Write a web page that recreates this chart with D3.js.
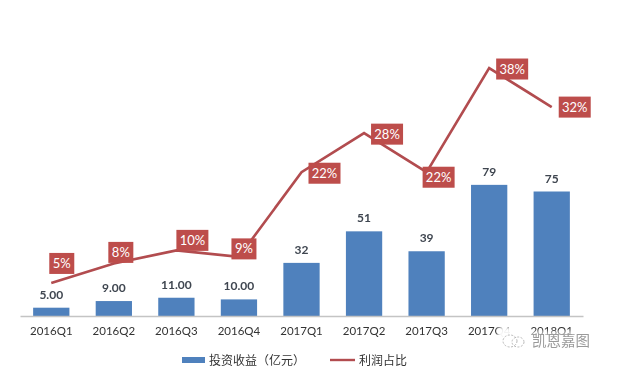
<!DOCTYPE html>
<html>
<head>
<meta charset="utf-8">
<script src="https://cdn.jsdelivr.net/npm/d3@7/dist/d3.min.js"></script>
<style>
  html, body { margin: 0; padding: 0; background: #fff; }
  svg { display: block; }
  text { font-family: Lato, "Noto Sans CJK SC", sans-serif; }
</style>
</head>
<body>
<div id="chart"></div>
<script>
// ── Data ────────────────────────────────────────────────────────────────
const quarters = ['2016Q1', '2016Q2', '2016Q3', '2016Q4', '2017Q1', '2017Q2', '2017Q3', '2017Q4', '2018Q1'];
const income = [5, 9, 11, 10, 32, 51, 39, 79, 75];
const incomeLabels = ['5.00', '9.00', '11.00', '10.00', '32', '51', '39', '79', '75'];
const profitShare = [5, 8, 10, 9, 22, 28, 22, 38, 32];
const legendNames = ['投资收益（亿元）', '利润占比'];

// hand-placed offsets of the red tags from their points
const tagDx = [10.5, 7, 16, 5, 23, 23, 12, 23, 23];
const tagDy = [-19.5, -11, -10, -8, 1, 1, 5, 1, 0];

const W = 621, H = 376;
const C = { bar: '#4f81bd', line: '#b24c4f', tag: '#bd4d4b', axis: '#c4c4c4', text: '#3f4650' };

const svg = d3.select('#chart').append('svg').attr('width', W).attr('height', H);

const x = d3.scaleBand().domain(quarters).range([20, 583]).paddingInner(0.42).paddingOuter(0.21);
const yBar = d3.scaleLinear().domain([0, 100]).range([316, 150]);
const yLine = d3.scaleLinear().domain([0, 40]).range([315.5, 55]);
const cx = q => x(q) + x.bandwidth() / 2;

const art = svg.append('g').style('filter', 'blur(0.35px)');

// ── Bars ────────────────────────────────────────────────────────────────
art.append('g').selectAll('rect').data(quarters).join('rect')
  .attr('x', d => x(d))
  .attr('y', (d, i) => yBar(income[i]))
  .attr('width', x.bandwidth())
  .attr('height', (d, i) => yBar(0) - yBar(income[i]))
  .attr('fill', C.bar);

art.append('g').selectAll('text').data(quarters).join('text')
  .attr('x', cx)
  .attr('y', (d, i) => yBar(income[i]) - 9)
  .attr('text-anchor', 'middle')
  .attr('font-size', 12).attr('font-weight', 700).attr('fill', C.text)
  .text((d, i) => incomeLabels[i]);

// ── Axis ────────────────────────────────────────────────────────────────
const axis = art.append('g').attr('transform', `translate(0,${yBar(0)})`)
  .call(d3.axisBottom(x).tickSize(0).tickPadding(11));
axis.select('.domain').attr('stroke', C.axis).attr('stroke-width', 1.5);
axis.selectAll('text')
  .attr('font-size', 11.5).attr('fill', '#333')
  .style('font-family', 'Lato, sans-serif');

// ── Line ────────────────────────────────────────────────────────────────
const line = d3.line().x(d => cx(d)).y((d, i) => yLine(profitShare[i]));
art.append('path').datum(quarters)
  .attr('d', line)
  .attr('fill', 'none').attr('stroke', C.line).attr('stroke-width', 2.6);

// ── Tags ────────────────────────────────────────────────────────────────
const tags = art.append('g').selectAll('g').data(quarters).join('g')
  .attr('transform', (d, i) => `translate(${cx(d) + tagDx[i]},${yLine(profitShare[i]) + tagDy[i]})`);
tags.append('rect')
  .attr('x', (d, i) => profitShare[i] < 10 ? -12.5 : -16)
  .attr('y', -10.5)
  .attr('width', (d, i) => profitShare[i] < 10 ? 25 : 32)
  .attr('height', 21)
  .attr('fill', C.tag);
tags.append('text')
  .attr('text-anchor', 'middle').attr('y', 4.5)
  .attr('font-size', 13).attr('font-weight', 400).attr('fill', '#fff')
  .text((d, i) => profitShare[i] + '%');

// ── Legend ──────────────────────────────────────────────────────────────
const legend = art.append('g');
legend.append('rect').attr('x', 182).attr('y', 357).attr('width', 23).attr('height', 6).attr('fill', C.bar);
legend.append('text').attr('x', 209).attr('y', 364.5)
  .attr('font-size', 12).attr('fill', '#333').text(legendNames[0]);
legend.append('line').attr('x1', 330).attr('x2', 355).attr('y1', 360).attr('y2', 360)
  .attr('stroke', C.line).attr('stroke-width', 2.4);
legend.append('text').attr('x', 359).attr('y', 364.5)
  .attr('font-size', 12).attr('fill', '#333').text(legendNames[1]);

// ── Watermark ───────────────────────────────────────────────────────────
const mark = svg.append('g');
mark.append('rect').attr('x', 498).attr('y', 331).attr('width', 98).attr('height', 8)
  .attr('fill', '#fff').attr('opacity', 0.55).style('filter', 'blur(1.5px)');
mark.append('rect').attr('x', 498).attr('y', 327).attr('width', 26).attr('height', 14)
  .attr('fill', '#fff').attr('opacity', 0.9).style('filter', 'blur(1.5px)');
[[510, 341, 7, 6], [518, 342, 6, 5]].forEach(([ex, ey, rx, ry]) => {
  mark.append('ellipse').attr('cx', ex).attr('cy', ey).attr('rx', rx).attr('ry', ry)
    .attr('fill', 'none').attr('stroke', '#b0b0b0').attr('stroke-width', 0.9).attr('stroke-dasharray', '2,1.5');
});
mark.append('text').attr('x', 532).attr('y', 346)
  .attr('font-size', 14.5)
  .attr('fill', '#9a9a9a')
  .style('font-family', '"Noto Sans CJK SC"')
  .text('凯恩嘉图');
</script>
</body>
</html>
